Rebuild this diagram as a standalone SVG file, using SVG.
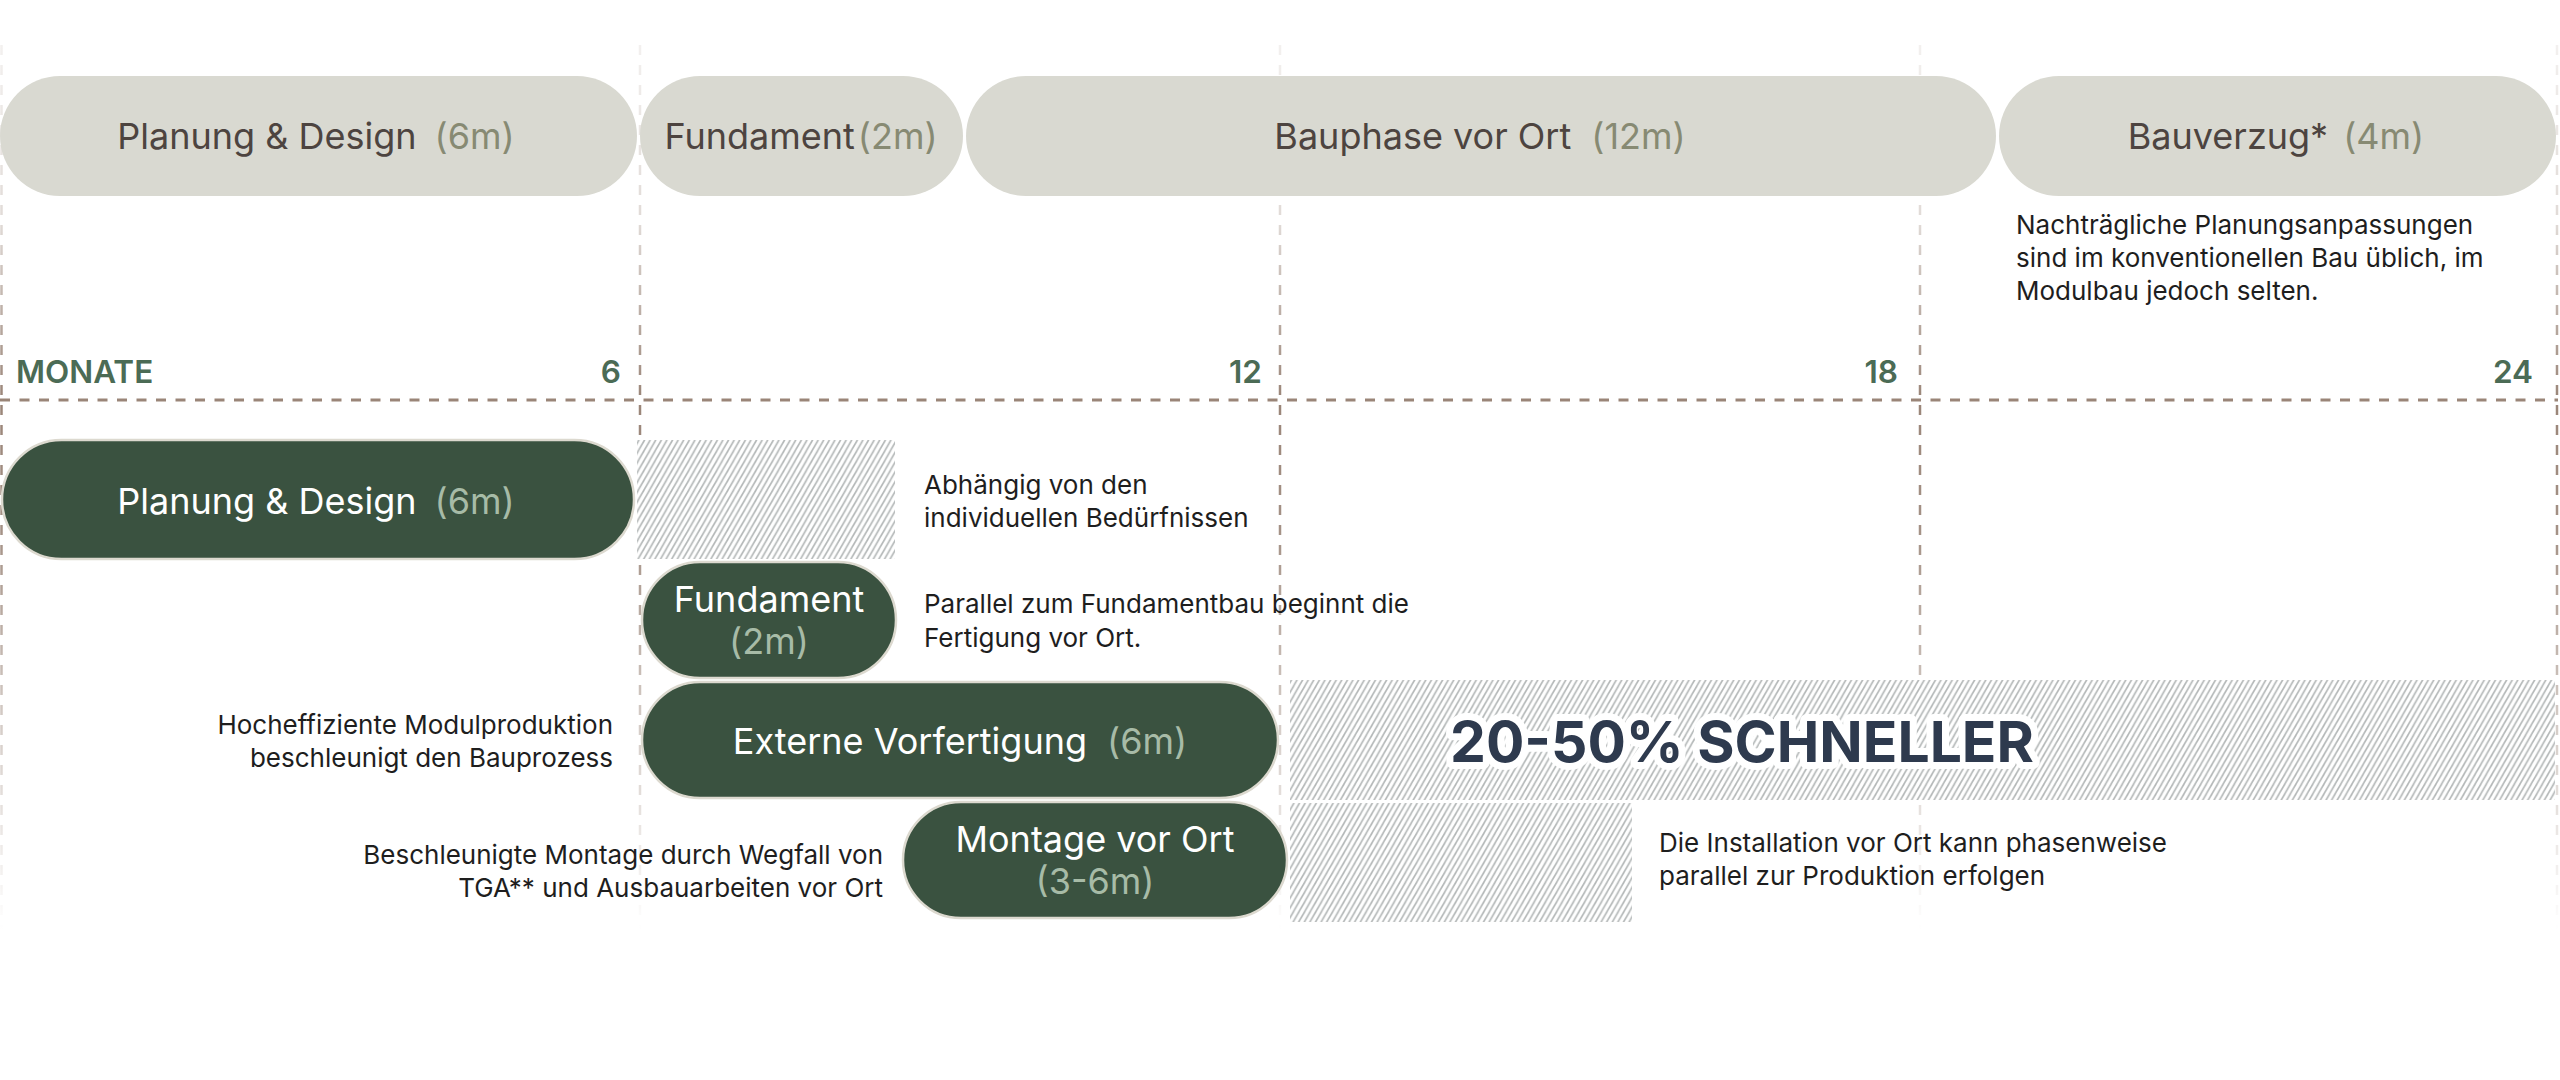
<svg xmlns="http://www.w3.org/2000/svg" width="2560" height="1080" viewBox="0 0 2560 1080">
<style>
text { font-family: Inter, "Noto Sans", "Liberation Sans", sans-serif; }
.toppill { fill: #d9d9d1; }
.toplabel { font-size: 36px; fill: #4d4440; }
.topdur { fill: #878a73; }
.darkpill { fill: #3a5240; stroke: #dcd9cf; stroke-width: 2.5; }
.darklabel { font-size: 36px; fill: #ffffff; }
.darkdur { fill: #a7bba7; }
.note { font-size: 26px; fill: #1e1e1e; }
.axis { font-size: 31.5px; font-weight: 600; fill: #4b6b55; }
.hatch { fill: url(#hatch); }
.vline { stroke: url(#vfade); stroke-width: 2.5; stroke-dasharray: 10 10; fill: none; }
.hline { stroke: #9a8578; stroke-width: 3; stroke-dasharray: 10 9.5; fill: none; }
.hl { stroke: #b4b8b8; stroke-width: 1.6; }
</style>
<defs>
<linearGradient id="vfade" gradientUnits="userSpaceOnUse" x1="0" y1="45" x2="0" y2="930">
<stop offset="0" stop-color="#9a8578" stop-opacity="0.12"/>
<stop offset="0.2" stop-color="#9a8578" stop-opacity="0.3"/>
<stop offset="0.4" stop-color="#9a8578" stop-opacity="1"/>
<stop offset="0.55" stop-color="#9a8578" stop-opacity="0.9"/>
<stop offset="0.75" stop-color="#9a8578" stop-opacity="0.45"/>
<stop offset="1" stop-color="#9a8578" stop-opacity="0"/>
</linearGradient>
<pattern id="hatch" patternUnits="userSpaceOnUse" width="5.6" height="9.8">
<rect x="0" y="0" width="5.6" height="9.8" fill="#ffffff"/>
<line class="hl" x1="-1" y1="11.55" x2="6.6" y2="-1.75"/>
<line class="hl" x1="-6.6" y1="11.55" x2="1" y2="-1.75"/>
<line class="hl" x1="4.6" y1="11.55" x2="12.2" y2="-1.75"/>
</pattern>
</defs>
<rect x="0" y="0" width="2560" height="1080" fill="#ffffff"/>

<g id="grid">
<line class="vline" x1="1.5" y1="45" x2="1.5" y2="930"/>
<line class="vline" x1="640" y1="45" x2="640" y2="930"/>
<line class="vline" x1="1280" y1="45" x2="1280" y2="930"/>
<line class="vline" x1="1920" y1="45" x2="1920" y2="930"/>
<line class="vline" x1="2557" y1="45" x2="2557" y2="930"/>
<line class="hline" x1="0" y1="400" x2="2558" y2="400"/>
<text class="axis" x="16" y="383">MONATE</text>
<text class="axis" x="621" y="383" text-anchor="end">6</text>
<text class="axis" x="1262" y="383" text-anchor="end">12</text>
<text class="axis" x="1898" y="383" text-anchor="end">18</text>
<text class="axis" x="2533" y="383" text-anchor="end">24</text>
</g>

<g id="top-planung">
<rect class="toppill" x="0" y="76" width="637" height="120" rx="60"/>
<text class="toplabel" x="316" y="149" text-anchor="middle">Planung &amp; Design<tspan class="topdur" dx="18">(6m)</tspan></text>
</g>
<g id="top-fundament">
<rect class="toppill" x="640" y="76" width="323" height="120" rx="60"/>
<text class="toplabel" x="801" y="149" text-anchor="middle">Fundament<tspan class="topdur" dx="3">(2m)</tspan></text>
</g>
<g id="top-bauphase">
<rect class="toppill" x="966" y="76" width="1030" height="120" rx="60"/>
<text class="toplabel" x="1480" y="149" text-anchor="middle">Bauphase vor Ort<tspan class="topdur" dx="20">(12m)</tspan></text>
</g>
<g id="top-bauverzug">
<rect class="toppill" x="1999" y="76" width="557" height="120" rx="60"/>
<text class="toplabel" x="2276" y="149" text-anchor="middle">Bauverzug*<tspan class="topdur" dx="15">(4m)</tspan></text>
</g>
<g id="note-bauverzug">
<text class="note" x="2016" y="234">Nachträgliche Planungsanpassungen</text>
<text class="note" x="2016" y="267">sind im konventionellen Bau üblich, im</text>
<text class="note" x="2016" y="300">Modulbau jedoch selten.</text>
</g>

<g id="hatch-areas">
<rect class="hatch" x="637" y="440" width="258" height="119"/>
<rect class="hatch" x="1290" y="680" width="1265" height="120"/>
<rect class="hatch" x="1290" y="803" width="342" height="119"/>
</g>

<g id="planung">
<rect class="darkpill" x="2" y="440" width="632" height="119" rx="59.5"/>
<text class="darklabel" x="316" y="514" text-anchor="middle">Planung &amp; Design<tspan class="darkdur" dx="18">(6m)</tspan></text>
</g>
<g id="note-planung">
<text class="note" x="924" y="494">Abhängig von den</text>
<text class="note" x="924" y="527">individuellen Bedürfnissen</text>
</g>

<g id="fundament">
<rect class="darkpill" x="642" y="562" width="254" height="116" rx="58"/>
<text class="darklabel" x="769" y="612" text-anchor="middle">Fundament</text>
<text class="darklabel darkdur" x="769" y="654" text-anchor="middle">(2m)</text>
</g>
<g id="note-fundament">
<text class="note" x="924" y="613">Parallel zum Fundamentbau beginnt die</text>
<text class="note" x="924" y="647">Fertigung vor Ort.</text>
</g>

<g id="vorfertigung">
<rect class="darkpill" x="642" y="682" width="636" height="116" rx="58"/>
<text class="darklabel" x="960" y="754" text-anchor="middle">Externe Vorfertigung<tspan class="darkdur" dx="20">(6m)</tspan></text>
</g>
<g id="note-vorfertigung">
<text class="note" x="613" y="734" text-anchor="end">Hocheffiziente Modulproduktion</text>
<text class="note" x="613" y="767" text-anchor="end">beschleunigt den Bauprozess</text>
</g>

<g id="montage">
<rect class="darkpill" x="903" y="802" width="384" height="116" rx="58"/>
<text class="darklabel" x="1095" y="852" text-anchor="middle">Montage vor Ort</text>
<text class="darklabel darkdur" x="1095" y="894" text-anchor="middle">(3-6m)</text>
</g>
<g id="note-montage">
<text class="note" x="883" y="864" text-anchor="end">Beschleunigte Montage durch Wegfall von</text>
<text class="note" x="883" y="897" text-anchor="end">TGA** und Ausbauarbeiten vor Ort</text>
</g>

<g id="schneller">
<text x="1450" y="762" font-size="57" font-weight="700" fill="#2e3a4e" stroke="#ffffff" stroke-width="14" stroke-linejoin="round" paint-order="stroke">20-50% SCHNELLER</text>
</g>
<g id="note-installation">
<text class="note" x="1659" y="852">Die Installation vor Ort kann phasenweise</text>
<text class="note" x="1659" y="885">parallel zur Produktion erfolgen</text>
</g>
</svg>
